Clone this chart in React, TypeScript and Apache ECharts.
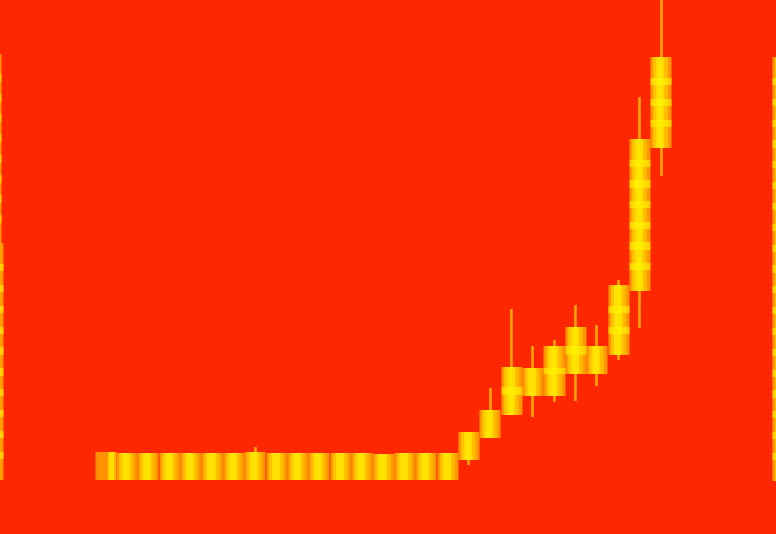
import { useEffect, useRef } from 'react';
import * as echarts from 'echarts';

// ---- data ----
const categories = ['1', '2', '3', '4', '5', '6', '7', '8', '9', '10', '11', '12', '13', '14', '15', '16', '17', '18', '19', '20', '21', '22', '23', '24', '25', '26', '27'];
const openValues = [0, 0, 0, 0, 0, 0, 0, 0, 0, 0, 0, 0, 0, 0, 0, 0, 0, 20, 42, 65, 84, 84, 106, 106, 125, 189, 332];
const closeValues = [28, 27, 27, 27, 27, 27, 27, 28, 27, 27, 27, 27, 27, 26, 27, 27, 27, 48, 70, 113, 112, 134, 153, 134, 195, 341, 423];
const lowValues = [0, 0, 0, 0, 0, 0, 0, 0, 0, 0, 0, 0, 0, 0, 0, 0, 0, 15, 42, 65, 63, 78, 79, 94, 120, 152, 304];
const highValues = [28, 27, 27, 27, 27, 27, 27, 33, 27, 27, 27, 27, 27, 26, 27, 27, 27, 48, 92, 171, 134, 140, 175, 155, 200, 383, 490];

// candles cut by the left / right edges of the picture
const edgeX = [-6.5, -8.5, 782.5];
const edgeOpen = [0, 237, -1];
const edgeClose = [237, 426, 423];

// ---- styles ----
const BG = '#ff2700';
const WICK = '#ffa600';
const CLEAR = 'rgba(255,245,0,0)';
const BAND = 'rgba(255,245,0,0.6)';

const hGrad = (stops: { offset: number; color: string }[]) => ({
  type: 'linear', x: 0, y: 0, x2: 1, y2: 0, colorStops: stops,
});

const bodyFill = hGrad([
  { offset: 0, color: '#ff9300' },
  { offset: 0.13, color: '#ff9b00' },
  { offset: 0.14, color: '#ffbc00' },
  { offset: 0.26, color: '#ffc800' },
  { offset: 0.27, color: '#ffdc00' },
  { offset: 0.45, color: '#ffe700' },
  { offset: 0.62, color: '#ffdc00' },
  { offset: 0.66, color: '#ffc300' },
  { offset: 0.84, color: '#ffb000' },
  { offset: 0.86, color: '#ff9b00' },
  { offset: 1, color: '#ff9300' },
]);

const firstFill = hGrad([
  { offset: 0, color: '#ff9000' },
  { offset: 0.58, color: '#ff9400' },
  { offset: 0.6, color: '#ffbc00' },
  { offset: 0.66, color: '#ffd800' },
  { offset: 0.85, color: '#ffe400' },
  { offset: 0.9, color: '#ffc000' },
  { offset: 1, color: '#ffa000' },
]);

function bandFill(h: number) {
  const tile = 28;
  const stops: { offset: number; color: string }[] = [{ offset: 0, color: CLEAR }];
  const n = Math.max(1, Math.round((h - tile) / 20.8) + 1);
  if (n > 1 && h > tile) {
    const step = (h - tile) / (n - 1);
    for (let k = 1; k < n; k++) {
      const a = (k * step) / h;
      const b = Math.min(1, ((k - 1) * step + tile) / h);
      stops.push({ offset: a, color: CLEAR }, { offset: a, color: BAND }, { offset: b, color: BAND }, { offset: b, color: CLEAR });
    }
  }
  stops.push({ offset: 1, color: CLEAR });
  return { type: 'linear', x: 0, y: 0, x2: 0, y2: 1, colorStops: stops };
}

const plainStyle = (fill: any) => ({
  color: fill, color0: fill, borderColor: 'rgba(0,0,0,0)', borderColor0: 'rgba(0,0,0,0)', borderWidth: 0,
});

function buildOption(mainBands: any[], edgeBands: any[]) {
  const bodyData = categories.map((_, i) => {
    const o = openValues[i];
    const c = closeValues[i];
    const v = [o, c, Math.min(o, c), Math.max(o, c)];
    return i === 0 ? { value: v, itemStyle: { color: firstFill, color0: firstFill } } : v;
  });
  const wickData = categories.map((_, i) => [openValues[i], closeValues[i], lowValues[i], highValues[i]]);
  const edgeData = edgeX.map((x, i) => {
    const o = edgeOpen[i];
    const c = edgeClose[i];
    return [x, o, c, Math.min(o, c), Math.max(o, c)];
  });
  return {
    animation: false,
    backgroundColor: BG,
    tooltip: { show: false },
    grid: [
      { left: 95, right: 104, top: 0, bottom: 54, outerBoundsMode: 'none' },
      { left: 0, right: 0, top: 0, bottom: 54, outerBoundsMode: 'none' },
    ],
    xAxis: [
      { type: 'category', gridIndex: 0, data: categories, show: false, boundaryGap: true },
      { type: 'value', gridIndex: 1, min: 0, max: 776, show: false },
    ],
    yAxis: [
      { type: 'value', gridIndex: 0, min: 0, max: 480, show: false },
      { type: 'value', gridIndex: 1, min: 0, max: 480, show: false },
    ],
    series: [
      {
        id: 'wicks', type: 'candlestick', xAxisIndex: 0, yAxisIndex: 0, barWidth: 1,
        data: wickData, silent: true,
        itemStyle: { color: WICK, color0: WICK, borderColor: WICK, borderColor0: WICK, borderWidth: 2.6 },
        emphasis: { disabled: true },
      },
      {
        id: 'bodies', type: 'candlestick', xAxisIndex: 0, yAxisIndex: 0, barWidth: '101%',
        data: bodyData, silent: true,
        itemStyle: plainStyle(bodyFill),
        emphasis: { disabled: true },
      },
      {
        id: 'bands', type: 'candlestick', xAxisIndex: 0, yAxisIndex: 0, barWidth: '101%',
        data: mainBands.length ? mainBands : bodyData.map((d: any) => (Array.isArray(d) ? d : d.value)),
        silent: true,
        itemStyle: plainStyle(CLEAR),
        emphasis: { disabled: true },
      },
      {
        id: 'edges', type: 'candlestick', xAxisIndex: 1, yAxisIndex: 1, barWidth: 21,
        encode: { x: 0, y: [1, 2, 3, 4] },
        data: edgeData, silent: true,
        itemStyle: plainStyle(bodyFill),
        emphasis: { disabled: true },
      },
      {
        id: 'edgeBands', type: 'candlestick', xAxisIndex: 1, yAxisIndex: 1, barWidth: 21,
        encode: { x: 0, y: [1, 2, 3, 4] },
        data: edgeBands.length ? edgeBands : edgeData, silent: true,
        itemStyle: plainStyle(CLEAR),
        emphasis: { disabled: true },
      },
    ],
  };
}

export default function App() {
  const ref = useRef<HTMLDivElement>(null);
  useEffect(() => {
    if (!ref.current) return;
    document.body.style.margin = '0';
    document.body.style.overflow = 'hidden';
    const chart = echarts.init(ref.current, null, { renderer: 'svg', width: 776, height: 534 });
    chart.setOption(buildOption([], []) as any);

    const px = (v: number, axis: number) => chart.convertToPixel({ yAxisIndex: axis } as any, v) as unknown as number;

    const mainBands = categories.map((_, i) => {
      const o = openValues[i];
      const c = closeValues[i];
      const lo = Math.min(o, c);
      const hi = Math.max(o, c);
      const h = Math.abs(px(lo, 0) - px(hi, 0));
      return { value: [o, c, lo, hi], itemStyle: { color: bandFill(h), color0: bandFill(h) } };
    });
    const edgeBands = edgeX.map((x, i) => {
      const o = edgeOpen[i];
      const c = edgeClose[i];
      const lo = Math.min(o, c);
      const hi = Math.max(o, c);
      const h = Math.abs(px(lo, 1) - px(hi, 1));
      return { value: [x, o, c, lo, hi], itemStyle: { color: bandFill(h), color0: bandFill(h) } };
    });
    chart.setOption(buildOption(mainBands, edgeBands) as any, true);

    return () => chart.dispose();
  }, []);
  return <div ref={ref} style={{ width: 776, height: 534 }} />;
}
